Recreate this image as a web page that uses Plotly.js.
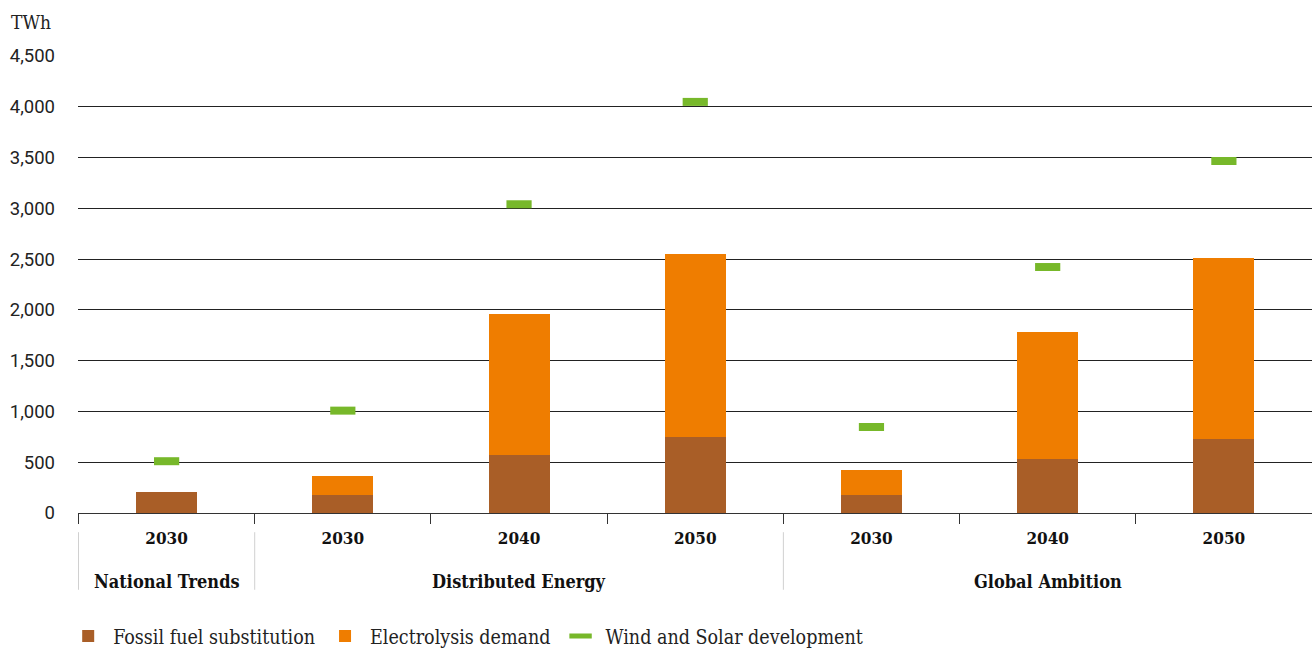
<!DOCTYPE html>
<html>
<head>
<meta charset="utf-8">
<script src="https://cdn.plot.ly/plotly-3.0.1.min.js"></script>
<style>
  html, body { margin: 0; padding: 0; background: #ffffff; }
  #chart { width: 1312px; height: 655px; }
</style>
</head>
<body>
<div id="chart"></div>
<script>
// ---- data ----
const scenarios = ["National Trends", "Distributed Energy", "Distributed Energy", "Distributed Energy",
                   "Global Ambition", "Global Ambition", "Global Ambition"];
const years = ["2030", "2030", "2040", "2050", "2030", "2040", "2050"];
const fossilFuelSubstitution = [205, 177, 571, 751, 177, 532, 729];
const electrolysisDemand = [0, 187, 1388, 1799, 246, 1250, 1782];
const windSolarDevelopment = [510, 1008, 3040, 4048, 847, 2422, 3466];
const yTickValues = [0, 500, 1000, 1500, 2000, 2500, 3000, 3500, 4000, 4500];

// ---- styling ----
const serif = "DejaVu Serif Condensed, DejaVu Serif, serif";
const sans = "Roboto, Arial, sans-serif";
const brown = "#a95e27";
const orange = "#ef7d00";
const green = "#77b82a";

const keys = scenarios.map((s, i) => s + " " + years[i]);

const traces = [
  { type: "bar", name: "Fossil fuel substitution", x: keys, y: fossilFuelSubstitution,
    marker: { color: brown }, hoverinfo: "y+name" },
  { type: "bar", name: "Electrolysis demand", x: keys, y: electrolysisDemand,
    marker: { color: orange }, hoverinfo: "y+name" },
  { type: "scatter", mode: "markers", name: "Wind and Solar development", x: keys, y: windSolarDevelopment,
    marker: { symbol: "line-ew", size: 18, color: green, line: { color: green, width: 8 } },
    hoverinfo: "y+name" }
];

// group labels & dividers derived from the scenario array
const groups = [];
scenarios.forEach((s, i) => {
  const last = groups[groups.length - 1];
  if (last && last.name === s) last.end = i; else groups.push({ name: s, start: i, end: i });
});
const annotations = groups.map(g => ({
  xref: "x", yref: "paper", x: (g.start + g.end) / 2, y: -0.149,
  text: "<b>" + g.name + "</b>", showarrow: false, xanchor: "center", yanchor: "middle",
  font: { family: serif, size: 18, color: "#111" }
}));
annotations.push({
  xref: "paper", yref: "paper", x: -0.056, y: 1.075, xanchor: "left", yanchor: "middle",
  text: "TWh", showarrow: false, font: { family: serif, size: 19, color: "#222" }
});
const shapes = groups.map(g => ({
  type: "line", xref: "x", yref: "paper", x0: g.start - 0.5, x1: g.start - 0.5,
  y0: -0.042, y1: -0.168, line: { color: "#d0d0d0", width: 1 }
}));

const layout = {
  width: 1312, height: 655,
  margin: { l: 78, r: 0, t: 56, b: 142, autoexpand: false },
  paper_bgcolor: "#ffffff", plot_bgcolor: "#ffffff",
  barmode: "stack", bargap: 0.654,
  showlegend: true,
  legend: { orientation: "h", x: -0.012, xanchor: "left", y: -0.27, yanchor: "middle",
            font: { family: serif, size: 19.5, color: "#222" }, traceorder: "normal",
            itemwidth: 40 },
  xaxis: {
    type: "category", tickson: "boundaries", ticks: "outside", ticklen: 10, tickcolor: "#333",
    tickwidth: 1, showgrid: false, showline: true, linecolor: "#333", linewidth: 1,
    tickvals: keys, ticktext: years.map(y => "<b>" + y + "</b>"), ticklabelstandoff: 10,
    tickfont: { family: serif, size: 17, color: "#111" }, zeroline: false, fixedrange: true
  },
  yaxis: {
    range: [0, 4500], tickvals: yTickValues, tickformat: ",d",
    showgrid: true, gridcolor: "#222", gridwidth: 1, zeroline: false,
    ticks: "", ticklabelstandoff: 22,
    tickfont: { family: sans, size: 18.5, color: "#222" }, fixedrange: true
  },
  annotations: annotations,
  shapes: shapes
};

Plotly.newPlot("chart", traces, layout, { displayModeBar: false });
</script>
</body>
</html>
